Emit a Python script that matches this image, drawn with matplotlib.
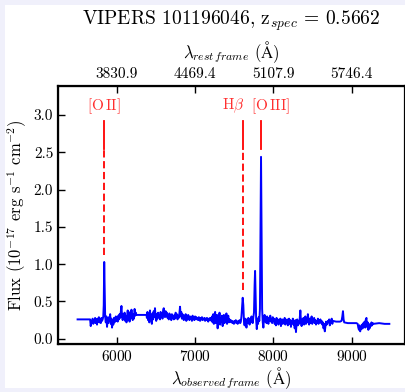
import numpy as np
import matplotlib
matplotlib.use("Agg")
import matplotlib.pyplot as plt
from matplotlib.patches import Rectangle

plt.rcParams['font.family'] = 'serif'
plt.rcParams['font.serif'] = ['cmr10']
plt.rcParams['mathtext.fontset'] = 'cm'
plt.rcParams['axes.formatter.use_mathtext'] = True
plt.rcParams['axes.unicode_minus'] = False

# spectrum (observed wavelength in A, flux in 1e-17 erg/s/cm2)
wave = [5500, 5655,
        5660, 5668, 5676, 5684, 5692, 5700, 5708, 5716, 5724, 5732, 5740, 5748, 5756, 5764,
        5772, 5780, 5788, 5796, 5804, 5812, 5820, 5828, 5834, 5840, 5846, 5852,
        5860, 5868, 5876, 5884, 5892, 5900, 5908, 5916, 5924, 5932, 5940, 5948, 5956, 5964,
        5972, 5980, 5988, 5996, 6004, 6012, 6020, 6028, 6036, 6044, 6052, 6060, 6068, 6076,
        6084, 6092, 6100, 6108, 6116, 6124, 6132, 6140, 6148, 6156, 6164, 6172, 6180, 6188,
        6196, 6204, 6212, 6220, 6228, 6236, 6244, 6250, 6380,
        6385, 6392, 6400, 6408, 6416, 6424, 6432, 6440, 6448, 6456, 6464, 6472, 6480, 6488,
        6496, 6504, 6512, 6520, 6528, 6536, 6544, 6552, 6560, 6568, 6576, 6584, 6592, 6600,
        6608, 6616, 6624, 6632, 6640, 6648, 6656, 6664, 6672, 6680, 6688, 6696, 6704, 6712,
        6720, 6728, 6736, 6744, 6752, 6760, 6768, 6776, 6784, 6792, 6800, 6808, 6816, 6824,
        6832, 6840, 6848, 6856, 6864, 6872, 6880, 6888, 6896, 6904, 6912, 6920, 6928, 6936,
        6944, 6952, 6960, 6968, 6976, 6984, 6992, 7000,
        7008, 7016, 7024, 7032, 7040, 7048, 7056, 7064, 7072, 7080, 7088, 7096, 7104, 7112,
        7120, 7128, 7136, 7144, 7152, 7160, 7168, 7176, 7184, 7192, 7200, 7208, 7216, 7224,
        7232, 7240, 7248, 7256, 7264, 7272, 7280, 7288, 7296, 7304, 7312, 7320, 7328, 7336,
        7344, 7352, 7360, 7368, 7376, 7384, 7392, 7400, 7408, 7416, 7424, 7432, 7440, 7448,
        7456, 7464, 7472, 7480, 7488, 7496, 7504, 7512, 7520, 7528, 7536, 7544, 7552, 7560,
        7568, 7576, 7584, 7592, 7600, 7608, 7616, 7624, 7632, 7640, 7648, 7656, 7664, 7672,
        7680, 7688, 7696, 7704, 7712, 7720, 7728, 7736, 7744, 7752, 7760, 7766, 7772, 7780,
        7788, 7796, 7804, 7812, 7820, 7828, 7836, 7842, 7848, 7856, 7864, 7872, 7880, 7888,
        7896, 7904, 7912, 7920, 7928, 7936, 7944, 7952, 7960, 7968, 7976, 7984, 7992, 8000,
        8008, 8016, 8024, 8032, 8040, 8048, 8056, 8064, 8072, 8080, 8088, 8096, 8104, 8112,
        8120, 8128, 8136, 8144, 8152, 8160, 8168, 8176, 8184, 8192, 8200, 8208, 8216, 8224,
        8232, 8240, 8248, 8256, 8264, 8272, 8280, 8288, 8296, 8304, 8312, 8320, 8328, 8336,
        8344, 8352, 8360, 8368, 8376, 8384, 8392, 8400, 8408, 8416, 8424, 8432, 8440, 8448,
        8456, 8464, 8472, 8480, 8488, 8496, 8504, 8512, 8520, 8528, 8536, 8544, 8552, 8560,
        8568, 8576, 8584, 8592, 8600, 8608, 8616, 8624, 8632, 8640, 8648, 8656, 8664, 8672,
        8680, 8688, 8696, 8704, 8712, 8720, 8728, 8736, 8744, 8752, 8760,
        8800, 8850, 8870, 8880, 8888, 8896, 8904, 8950, 9000, 9060, 9076,
        9084, 9092, 9100, 9108, 9116, 9124, 9132, 9140, 9148, 9156, 9164, 9172, 9180, 9188,
        9196, 9204, 9212, 9220, 9228, 9236, 9244, 9252, 9260, 9268, 9276, 9350, 9420, 9480]

flux = [0.26, 0.26,
        0.26, 0.17, 0.24, 0.21, 0.27, 0.20, 0.25, 0.22, 0.28, 0.21, 0.26, 0.19, 0.27, 0.23,
        0.29, 0.22, 0.25, 0.21, 0.28, 0.24, 0.26, 0.30, 0.45, 1.03, 0.70, 0.30,
        0.22, 0.30, 0.16, 0.27, 0.21, 0.29, 0.24, 0.33, 0.20, 0.27, 0.15, 0.25, 0.19, 0.28,
        0.22, 0.26, 0.30, 0.24, 0.27, 0.23, 0.31, 0.26, 0.33, 0.28, 0.36, 0.44, 0.30, 0.25,
        0.33, 0.27, 0.35, 0.24, 0.31, 0.22, 0.29, 0.38, 0.26, 0.34, 0.23, 0.36, 0.28, 0.39,
        0.30, 0.25, 0.33, 0.27, 0.40, 0.31, 0.35, 0.32, 0.32,
        0.28, 0.36, 0.25, 0.33, 0.22, 0.38, 0.27, 0.31, 0.20, 0.34, 0.26, 0.37, 0.29, 0.41,
        0.30, 0.24, 0.33, 0.27, 0.35, 0.29, 0.32, 0.26, 0.36, 0.30, 0.34, 0.27, 0.38, 0.41,
        0.33, 0.29, 0.37, 0.31, 0.35, 0.28, 0.32, 0.26, 0.34, 0.29, 0.31, 0.25, 0.33, 0.28,
        0.30, 0.26, 0.32, 0.27, 0.35, 0.29, 0.33, 0.26, 0.31, 0.28, 0.34, 0.43, 0.30, 0.36,
        0.27, 0.33, 0.29, 0.25, 0.31, 0.27, 0.33, 0.24, 0.30, 0.26, 0.32, 0.28, 0.25, 0.30,
        0.27, 0.29, 0.24, 0.31, 0.26, 0.28, 0.25, 0.30,
        0.27, 0.29, 0.26, 0.28, 0.25, 0.29, 0.27, 0.24, 0.28, 0.26, 0.29, 0.25, 0.27, 0.26,
        0.28, 0.24, 0.27, 0.25, 0.28, 0.26, 0.23, 0.27, 0.25, 0.28, 0.26, 0.24, 0.30, 0.22,
        0.33, 0.20, 0.29, 0.36, 0.21, 0.27, 0.32, 0.14, 0.30, 0.24, 0.35, 0.19, 0.28, 0.23,
        0.31, 0.17, 0.26, 0.32, 0.21, 0.29, 0.24, 0.34, 0.20, 0.27, 0.31, 0.22, 0.26, 0.23,
        0.25, 0.22, 0.24, 0.21, 0.23, 0.20, 0.24, 0.22, 0.25, 0.21, 0.23, 0.20, 0.24, 0.22,
        0.25, 0.21, 0.23, 0.30, 0.42, 0.55, 0.45, 0.24, 0.18, 0.27, 0.22, 0.15, 0.26, 0.21,
        0.28, 0.23, 0.19, 0.27, 0.22, 0.30, 0.25, 0.21, 0.29, 0.35, 0.72, 0.91, 0.60, 0.25,
        0.13, 0.26, 0.20, 0.29, 0.24, 0.40, 1.60, 2.44, 1.50, 0.40, 0.22, 0.15, 0.28, 0.32,
        0.23, 0.27, 0.21, 0.30, 0.25, 0.20, 0.28, 0.24, 0.31, 0.23, 0.26, 0.21, 0.29, 0.24,
        0.27, 0.20, 0.25, 0.18, 0.28, 0.22, 0.26, 0.19, 0.24, 0.21, 0.27, 0.17, 0.23, 0.26,
        0.20, 0.25, 0.22, 0.28, 0.19, 0.24, 0.21, 0.26, 0.18, 0.23, 0.27, 0.20, 0.25, 0.16,
        0.24, 0.21, 0.27, 0.19, 0.23, 0.14, 0.25, 0.09, 0.21, 0.26, 0.18, 0.24, 0.20, 0.27,
        0.38, 0.22, 0.17, 0.26, 0.21, 0.28, 0.19, 0.24, 0.30, 0.20, 0.26, 0.22, 0.33, 0.24,
        0.19, 0.27, 0.21, 0.25, 0.30, 0.20, 0.26, 0.23, 0.28, 0.21, 0.25, 0.19, 0.24, 0.22,
        0.27, 0.20, 0.25, 0.23, 0.26, 0.21, 0.24, 0.19, 0.22, 0.14, 0.20, 0.10, 0.17, 0.23,
        0.19, 0.21, 0.24, 0.22, 0.26, 0.18, 0.24, 0.21, 0.27, 0.20, 0.24,
        0.23, 0.23, 0.24, 0.30, 0.37, 0.26, 0.22, 0.21, 0.21, 0.21, 0.20,
        0.15, 0.12, 0.18, 0.10, 0.16, 0.13, 0.19, 0.14, 0.21, 0.17, 0.23, 0.15, 0.26, 0.28,
        0.16, 0.22, 0.12, 0.19, 0.14, 0.20, 0.17, 0.22, 0.18, 0.21, 0.20, 0.21, 0.20, 0.20]

z_spec = 0.5662
obj_id = '101196046'
line_labels = [r'[O$\,$II]', r'H$\beta$', r'[O$\,$III]']
line_rest = [3727.0, 4861.3, 5006.8]
obs_ticks = [6000, 7000, 8000, 9000]

wave = np.array(wave, dtype=float)
flux = np.array(flux)

fig = plt.figure(figsize=(4.06, 3.92), dpi=100)
fig.patch.set_facecolor('#f0f0fb')
fig.patches.append(Rectangle((5 / 406, 4 / 392), 1, 383 / 392, transform=fig.transFigure,
                             facecolor='white', edgecolor='none', zorder=-5))

ax = fig.add_axes([58 / 406, 48 / 392, 347 / 406, 258 / 392])
ax.plot(wave, flux, color='blue', lw=1.4, zorder=3)

# emission line markers
for lab, rest, dx in zip(line_labels, line_rest, [0, -128, 122]):
    lobs = rest * (1 + z_spec)
    near = np.abs(wave - lobs) < 15
    peak = flux[near].max()
    ax.plot([lobs, lobs], [2.55, 2.92], color='red', lw=1.3, zorder=2)
    if peak + 0.1 < 2.55:
        ax.plot([lobs, lobs], [peak + 0.1, 2.55], color='red', lw=1.3,
                ls=(0, (4, 2)), zorder=2)
    ax.text(lobs + dx, 3.12, lab, color='#ff3030', fontsize=11, ha='center', va='center')

ax.set_xlim(5250, 9680)
ax.set_ylim(-0.07, 3.39)
ax.set_xticks(obs_ticks)
ax.set_yticks([0.0, 0.5, 1.0, 1.5, 2.0, 2.5, 3.0])
ax.set_yticklabels(['0.0', '0.5', '1.0', '1.5', '2.0', '2.5', '3.0'])
ax.tick_params(direction='in', length=5, width=1, labelsize=11, right=False)
for s in ax.spines.values():
    s.set_linewidth(1.6)
ax.set_xlabel(r'$\lambda_{observed\,frame}$ ($\mathrm{\AA}$)', fontsize=12, labelpad=1)
ax.set_ylabel(r'Flux (10$^{-17}$ erg s$^{-1}$ cm$^{-2}$)', fontsize=12, labelpad=3)

ax2 = ax.twiny()
ax2.set_xlim(ax.get_xlim())
ax2.set_xticks(obs_ticks)
ax2.set_xticklabels(['%.1f' % (t / (1 + z_spec)) for t in obs_ticks])
ax2.tick_params(direction='in', length=5, width=1, labelsize=11)
ax2.set_xlabel(r'$\lambda_{rest\,frame}$ ($\mathrm{\AA}$)', fontsize=12, labelpad=7)

fig.text(231.5 / 406, 1 - 21 / 392, r'VIPERS %s, z$_{spec}$ = %.4f' % (obj_id, z_spec),
         fontsize=14, ha='center', va='center')

fig.savefig('out.png', dpi=100, facecolor=fig.get_facecolor())
